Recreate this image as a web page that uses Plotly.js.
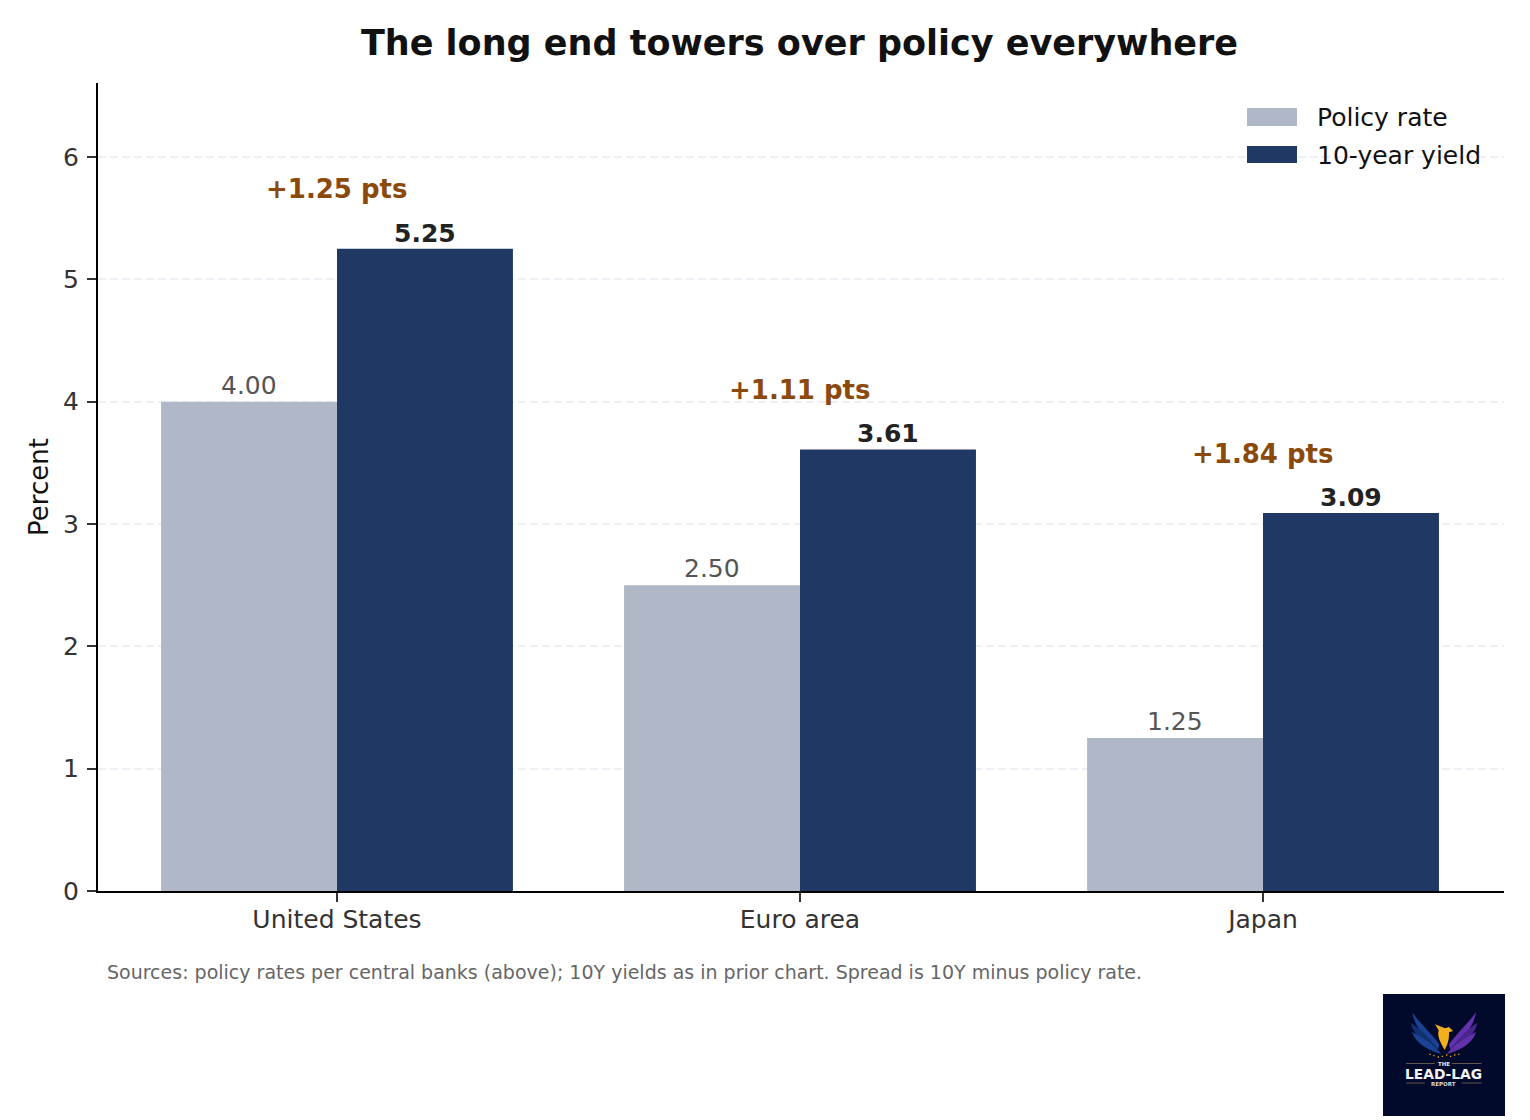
<!DOCTYPE html>
<html><head><meta charset="utf-8">
<script src="https://cdn.plot.ly/plotly-3.0.1.min.js"></script>
<style>html,body{margin:0;padding:0;background:#fff}#c{width:1530px;height:1120px}</style></head>
<body><div id="c"></div>
<script>
const categories = ["United States", "Euro area", "Japan"];
const policyRate = [4.00, 2.50, 1.25];
const tenYearYield = [5.25, 3.61, 3.09];
const spreads = ["+1.25 pts", "+1.11 pts", "+1.84 pts"];
const seriesNames = ["Policy rate", "10-year yield"];
const yTicks = [0, 1, 2, 3, 4, 5, 6];
const chartTitle = "The long end towers over policy everywhere";
const yTitle = "Percent";
const sourceNote = "Sources: policy rates per central banks (above); 10Y yields as in prior chart. Spread is 10Y minus policy rate.";

const W = 1530, H = 1120, L = 98, R = 1504, T = 83, B = 891;
const FONT = "DejaVu Sans";
const px = x => (x - L) / (R - L);
const py = y => (B - y) / (B - T);
// logo artwork is described in 3x crop coordinates
const zx = x => px(1370 + x / 3), zy = y => py(985 + y / 3);
const zpath = (s) => s.replace(/(-?[\d.]+),(-?[\d.]+)/g, (m, a, b) => zx(+a) + "," + zy(+b));
const fill = (d, c) => ({type: "path", xref: "paper", yref: "paper", path: zpath(d), fillcolor: c, line: {width: 0}, layer: "above"});
const rect = (x0, y0, x1, y1, c) => ({type: "rect", xref: "paper", yref: "paper", x0: px(x0), x1: px(x1), y0: py(y0), y1: py(y1), fillcolor: c, line: {width: 0}, layer: "above"});
const zrect = (x0, y0, x1, y1, c) => rect(1370 + x0 / 3, 985 + y0 / 3, 1370 + x1 / 3, 985 + y1 / 3, c);
const label = (x, y, text, size, color, extra) => Object.assign({xref: "paper", yref: "paper", x: px(x), y: py(y), text, showarrow: false, xanchor: "left", yanchor: "middle", font: {family: FONT, size, color}}, extra || {});

const traces = [
  {type: "bar", name: seriesNames[0], x: categories, y: policyRate, marker: {color: "#b0b7c6", line: {width: 0}}, hoverinfo: "x+y"},
  {type: "bar", name: seriesNames[1], x: categories, y: tenYearYield, marker: {color: "#1f3864", line: {width: 0}}, hoverinfo: "x+y"}
];

const annotations = [];
categories.forEach((c, i) => {
  annotations.push({x: c, y: policyRate[i], xref: "x", yref: "y", xshift: -88.5, yshift: 0, yanchor: "bottom", showarrow: false,
    text: policyRate[i].toFixed(2), font: {family: FONT, size: 25, color: "#555555"}});
  annotations.push({x: c, y: tenYearYield[i], xref: "x", yref: "y", xshift: 88, yshift: -1, yanchor: "bottom", showarrow: false,
    text: "<b>" + tenYearYield[i].toFixed(2) + "</b>", font: {family: FONT, size: 25, color: "#222222"}});
  annotations.push({x: c, y: tenYearYield[i] + 0.485, xref: "x", yref: "y", yanchor: "middle", showarrow: false,
    text: "<b>" + spreads[i] + "</b>", font: {family: FONT, size: 26, color: "#8b4a0b"}});
});
annotations.push(label(1314.5, 117.5, seriesNames[0], 25, "#111111"));
annotations.push(label(1314.5, 155.5, seriesNames[1], 25, "#111111"));
annotations.push(label(105, 972, sourceNote, 19, "#666666"));
annotations.push(label(1443.5, 1073.5, "<b>LEAD-LAG</b>", 13.8, "#f4f4f4", {xanchor: "center"}));
annotations.push(label(1443.5, 1063.5, "<b>THE</b>", 5.5, "#e8e8e8", {xanchor: "center"}));
annotations.push(label(1443.5, 1083.5, "<b>REPORT</b>", 5.5, "#d8d8d8", {xanchor: "center"}));

const blue = "#1a4394", blue2 = "#12306f", violet = "#6431ad", violet2 = "#47258a", gold = "#f2b01e", spark = "#e8a020";
const sparks = [[178,206],[190,210],[203,214],[215,212],[228,208],[240,212],[252,208],[264,206]];
const shapes = [
  rect(1247, 108, 1297, 126, "#b0b7c6"),
  rect(1247, 146, 1297, 163, "#1f3864"),
  rect(1383, 994, 1505, 1116, "#020a2c"),
  // left wing
  fill("M127,82 C145,110 180,140 208,178 L205,192 C170,165 135,130 127,82 Z", blue),
  fill("M121,113 C150,130 180,160 207,195 C170,180 135,160 121,113 Z", blue2),
  fill("M125,140 C150,155 185,170 214,207 C180,197 140,180 125,140 Z", blue),
  // right wing
  fill("M318,82 C298,110 265,140 237,178 L240,192 C275,165 310,130 318,82 Z", violet),
  fill("M323,113 C295,130 265,160 238,195 C275,180 310,160 323,113 Z", violet2),
  fill("M319,140 C295,155 260,170 230,207 C265,197 305,180 319,140 Z", violet),
  // phoenix body
  fill("M195,118 L225,130 L237,126 L249,138 L237,142 C238,165 232,180 224,195 C214,178 200,155 206,136 Z", gold)
].concat(sparks.map(s => zrect(s[0], s[1], s[0] + 4, s[1] + 4, spark))).concat([
  // rules beside THE and REPORT
  zrect(108, 235, 195, 237, "#8c7a55"),
  zrect(245, 235, 335, 237, "#8c7a55"),
  zrect(108, 293, 165, 295, "#8c7a55"),
  zrect(275, 293, 335, 295, "#8c7a55")
]);

const layout = {
  width: W, height: H, showlegend: false, barmode: "group", bargap: 0.24, bargroupgap: 0,
  paper_bgcolor: "#ffffff", plot_bgcolor: "#ffffff",
  margin: {l: L, r: W - R, t: T, b: H - B, pad: 0},
  font: {family: FONT},
  title: {text: "<b>" + chartTitle + "</b>", x: 799.5 / W, xanchor: "center", y: 1 - 42.5 / H, yanchor: "middle", font: {family: FONT, size: 35, color: "#111111"}},
  xaxis: {type: "category", range: [-0.5162, 2.5205], showgrid: false, zeroline: false, showline: true, linecolor: "#000000", linewidth: 2,
    ticks: "outside", ticklen: 9, tickwidth: 1.6, tickcolor: "#333333", ticklabelstandoff: -4, tickfont: {family: FONT, size: 25, color: "#333333"}},
  yaxis: {range: [0, 6.605], tickvals: yTicks, ticktext: yTicks.map(String), showgrid: true, gridcolor: "#eceff4", gridwidth: 2, griddash: "8px,4px",
    zeroline: false, showline: true, linecolor: "#000000", linewidth: 2, ticks: "outside", ticklen: 9, tickwidth: 1.6, tickcolor: "#333333",
    ticklabelstandoff: 3, tickfont: {family: FONT, size: 25, color: "#333333"},
    title: {text: yTitle, standoff: 7, font: {family: FONT, size: 26, color: "#111111"}}},
  annotations, shapes
};
Plotly.newPlot("c", traces, layout, {displayModeBar: false, responsive: false});
</script></body></html>
